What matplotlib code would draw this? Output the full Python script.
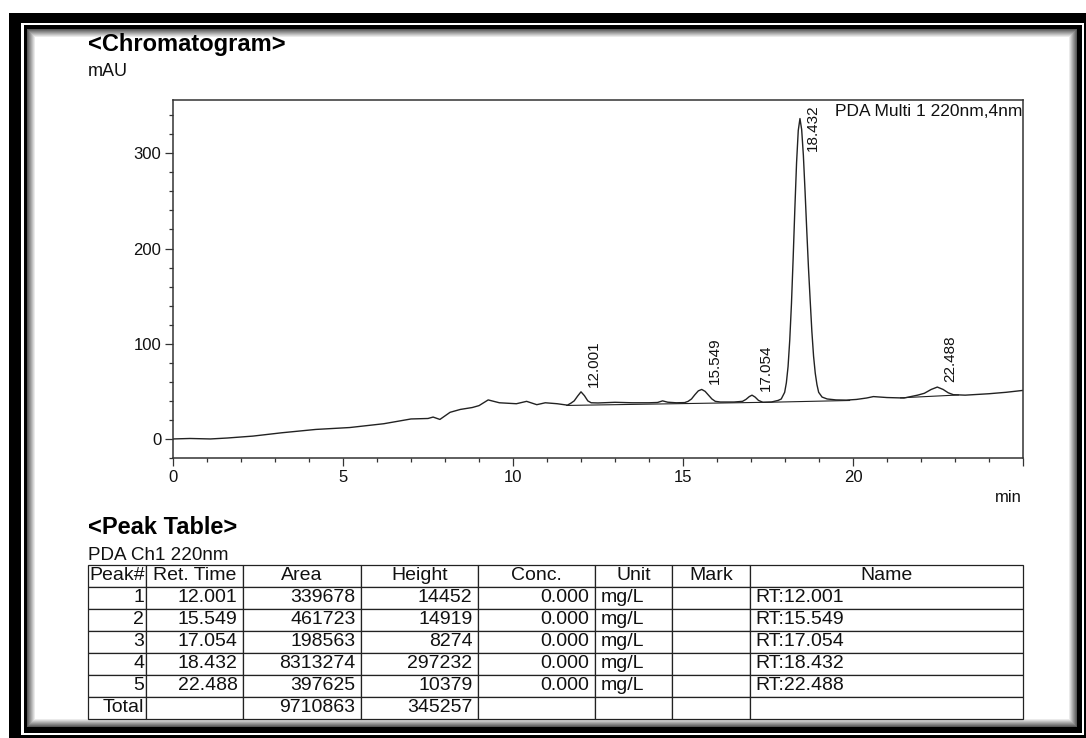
import numpy as np
import matplotlib
matplotlib.use("Agg")
import matplotlib.pyplot as plt
from matplotlib.patches import Rectangle
from matplotlib.ticker import MultipleLocator

plt.rcParams["font.family"] = ["Liberation Sans", "DejaVu Sans"]

# --- chromatogram trace (min, mAU) ---
trace_t = [0.0, 0.5, 1.1, 1.6, 2.35, 3.2, 4.2, 5.2, 6.2, 7.0, 7.5, 7.65, 7.85,
           8.15, 8.45, 8.8, 9.0, 9.27, 9.6, 10.1, 10.4, 10.7, 10.95, 11.3, 11.6,
           11.7, 11.8, 11.9, 12.0, 12.1, 12.2, 12.3, 12.5, 13.0, 13.5, 14.0,
           14.25, 14.4, 14.55, 14.8, 15.05,
           15.15, 15.25, 15.35, 15.45, 15.55, 15.65, 15.75, 15.85, 15.95, 16.1,
           16.5, 16.75, 16.85, 16.95, 17.03, 17.12, 17.22, 17.35, 17.6, 17.8,
           17.89, 17.99, 18.04, 18.09, 18.14, 18.19, 18.24, 18.29, 18.34, 18.39,
           18.44, 18.49, 18.54, 18.59, 18.64, 18.69, 18.74, 18.79, 18.84, 18.89,
           18.94, 18.99, 19.09, 19.24, 19.5, 19.8, 20.1, 20.4, 20.6, 21.0, 21.5,
           21.9, 22.1, 22.3, 22.48, 22.65, 22.8, 22.95, 23.3, 24.0, 24.5, 25.0]
trace_mau = [0.0, 0.5, 0.0, 1.0, 3.0, 6.5, 10.0, 12.0, 16.0, 21.0, 21.5, 23.0, 20.5,
             28.0, 31.0, 33.0, 35.0, 41.0, 38.0, 37.0, 39.5, 36.0, 38.0, 37.0, 35.5,
             37.5, 40.0, 45.0, 49.5, 45.5, 40.0, 38.0, 37.8, 38.5, 38.0, 38.0,
             38.3, 40.0, 38.6, 38.0, 38.2,
             39.5, 42.0, 46.5, 50.5, 52.0, 50.0, 46.0, 42.0, 39.5, 38.8,
             38.8, 39.5, 41.5, 44.5, 46.0, 44.0, 40.5, 38.5, 38.8, 40.5,
             42.0, 49.0, 59.0, 76.0, 104.0, 142.0, 190.0, 242.0, 290.0, 324.0,
             336.5, 325.0, 298.0, 260.0, 219.0, 180.0, 146.0, 113.0, 87.0, 69.0,
             57.0, 49.0, 44.0, 42.0, 41.0, 40.8, 41.5, 43.0, 44.5, 43.5, 43.0,
             46.0, 48.0, 52.0, 54.5, 52.0, 48.5, 46.5, 46.0, 47.5, 49.0, 51.0]

# integration baselines drawn under the peaks
base1_t = [11.58, 17.6, 19.9]
base1_mau = [35.2, 38.6, 40.4]
base2_t = [21.4, 23.1]
base2_mau = [43.2, 46.2]

x_major = [0, 5, 10, 15, 20, 25]
x_labels = ["0", "5", "10", "15", "20", ""]
y_major = [0, 100, 200, 300]

# --- peak table ---
peak_no = [1, 2, 3, 4, 5]
ret_time = [12.001, 15.549, 17.054, 18.432, 22.488]
area = [339678, 461723, 198563, 8313274, 397625]
height = [14452, 14919, 8274, 297232, 10379]
conc = [0.000, 0.000, 0.000, 0.000, 0.000]
unit = ["mg/L"] * 5
total_area = 9710863
total_height = 345257
col_labels = ["Peak#", "Ret. Time", "Area", "Height", "Conc.", "Unit", "Mark", "Name"]

W, H = 1086, 738
INK = "#111111"


def fx(x):
    return x / W


def fy(y):
    return 1 - y / H


fig = plt.figure(figsize=(W / 100, H / 100), dpi=100)
fig.patch.set_facecolor("white")


def px_rect(x0, y0, x1, y1, **kw):
    return Rectangle((fx(x0), fy(y1)), (x1 - x0) / W, (y1 - y0) / H,
                     transform=fig.transFigure, edgecolor="none", **kw)


# page frame: thick black border, thin white gap, inner black line, soft shadow
fig.add_artist(px_rect(9, 12.5, 1100, 760, facecolor="black", zorder=-10))
fig.add_artist(px_rect(20.5, 22.5, 1084, 735, facecolor="white", zorder=-9.9))
fig.add_artist(px_rect(23.5, 25, 1082, 733, facecolor="black", zorder=-9.8))
for i, g in enumerate(np.linspace(0.35, 1.0, 9)):
    fig.add_artist(px_rect(27 + i, 29 + i, 1077 - i, 727 - i,
                           facecolor=str(g), zorder=-9.7 + i * 0.01))

# --- chromatogram axes ---
ax = fig.add_axes([fx(173), fy(458), (1023 - 173) / W, (458 - 100) / H])
ax.plot(trace_t, trace_mau, color="#222222", lw=1.0)
ax.plot(base1_t, base1_mau, color="#222222", lw=0.8)
ax.plot(base2_t, base2_mau, color="#222222", lw=0.8)

ax.set_xlim(0, 25)
ax.set_ylim(-20, 356)
ax.set_xticks(x_major)
ax.set_xticklabels(x_labels)
ax.set_yticks(y_major)
ax.xaxis.set_minor_locator(MultipleLocator(1))
ax.yaxis.set_minor_locator(MultipleLocator(20))
ax.tick_params(which="major", direction="out", length=5.5, width=0.9,
               color="#333333", labelsize=12, labelcolor=INK, pad=3)
ax.tick_params(which="minor", direction="out", length=3, width=0.9, color="#333333")
for sp in ax.spines.values():
    sp.set_color("#333333")
    sp.set_linewidth(1.1)

# peak retention-time labels
for rt in ret_time:
    yv = np.interp(rt, trace_t, trace_mau)
    if yv > 300:
        ax.annotate(f"{rt:.3f}", xy=(rt, 356), xytext=(9.4, -3),
                    textcoords="offset points", rotation=90,
                    ha="center", va="top", fontsize=11, color=INK)
    else:
        ax.annotate(f"{rt:.3f}", xy=(rt, yv), xytext=(9.4, 3.6),
                    textcoords="offset points", rotation=90,
                    ha="center", va="bottom", fontsize=11, color=INK)

fig.text(fx(1022), fy(111), "PDA Multi 1 220nm,4nm", ha="right", va="center",
         fontsize=12.5, color=INK)
fig.text(fx(1022), fy(497), "min", ha="right", va="center", fontsize=12, color=INK)
fig.text(fx(88), fy(45), "<Chromatogram>", ha="left", va="center",
         fontsize=17, fontweight="bold", color="black")
fig.text(fx(88), fy(71), "mAU", ha="left", va="center", fontsize=13, color=INK)

# --- peak table ---
fig.text(fx(88), fy(528), "<Peak Table>", ha="left", va="center",
         fontsize=17, fontweight="bold", color="black")
fig.text(fx(88), fy(555), "PDA Ch1 220nm", ha="left", va="center",
         fontsize=13.6, color=INK)

rows = []
for n, rt, a, h, c, u in zip(peak_no, ret_time, area, height, conc, unit):
    rows.append([str(n), f"{rt:.3f}", str(a), str(h), f"{c:.3f}", u, "", f"RT:{rt:.3f}"])
rows.append(["Total", "", str(total_area), str(total_height), "", "", "", ""])

col_px = [58, 97, 118, 117, 117, 77, 78, 273]
col_align = ["right", "right", "right", "right", "right", "left", "left", "left"]

tax = fig.add_axes([fx(88), fy(719), 935 / W, 154 / H])
tax.axis("off")
tbl = tax.table(cellText=rows, colLabels=col_labels,
                colWidths=[w / sum(col_px) for w in col_px],
                cellLoc="center", bbox=[0, 0, 1, 1])
tbl.auto_set_font_size(False)
tbl.set_fontsize(14)
for (r, c), cell in tbl.get_celld().items():
    cell.set_edgecolor("#222222")
    cell.set_linewidth(0.9)
    cell.PAD = (2.0 if c == 0 else 5.5) / col_px[c]
    cell.get_text().set_color(INK)
    if r > 0:
        cell.get_text().set_ha(col_align[c])

fig.savefig("out.png", dpi=100, facecolor="white")
